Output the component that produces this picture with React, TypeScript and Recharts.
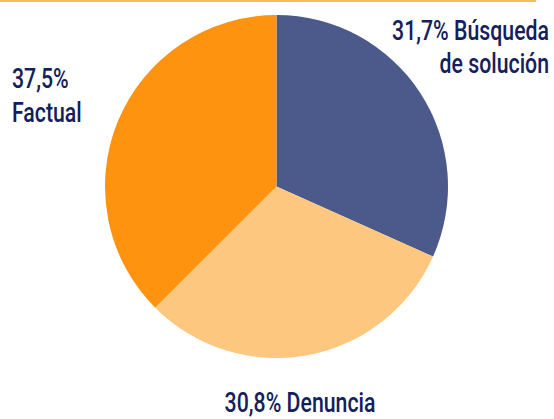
import { Pie, PieChart, Cell } from 'recharts'

const categories = ['Búsqueda de solución', 'Denuncia', 'Factual']
const shares = [31.7, 30.8, 37.5]
const sliceColors = ['#4c5a8b', '#fec77f', '#fd930f']

const data = categories.map((name, i) => ({ name, value: shares[i] }))

const pct = (v: number) => v.toFixed(1).replace('.', ',') + '%'

const textProps = {
  fontFamily: 'Roboto, "DejaVu Sans", sans-serif',
  fontWeight: 500,
  fontSize: 28,
  fill: '#13205c'
}

export default function App() {
  return (
    <div style={{ position: 'absolute', left: 0, top: 0, width: 554, height: 419, background: '#fff' }}>
      <div style={{ position: 'absolute', left: 0, top: 0, width: 536, height: 2, background: '#fdb85a' }} />
      <PieChart width={554} height={419} margin={{ top: 0, right: 0, bottom: 0, left: 0 }}>
        <Pie
          data={data}
          dataKey="value"
          cx={276.5}
          cy={186.5}
          outerRadius={171.5}
          startAngle={90}
          endAngle={-270}
          stroke="none"
          isAnimationActive={false}>
          {data.map((d, i) => (
            <Cell key={d.name} fill={sliceColors[i]} />
          ))}
        </Pie>
      </PieChart>
      <svg width={554} height={419} style={{ position: 'absolute', left: 0, top: 0 }}>
        <text {...textProps} textAnchor="end" transform="translate(549,40) scale(0.76,1)">
          {pct(shares[0])} Búsqueda
        </text>
        <text {...textProps} textAnchor="end" transform="translate(549,73) scale(0.76,1)">
          de solución
        </text>
        <text {...textProps} textAnchor="start" transform="translate(12,88) scale(0.76,1)">
          {pct(shares[2])}
        </text>
        <text {...textProps} textAnchor="start" transform="translate(12,122) scale(0.76,1)">
          Factual
        </text>
        <text {...textProps} textAnchor="middle" transform="translate(300,412) scale(0.76,1)">
          {pct(shares[1])} Denuncia
        </text>
      </svg>
    </div>
  )
}
